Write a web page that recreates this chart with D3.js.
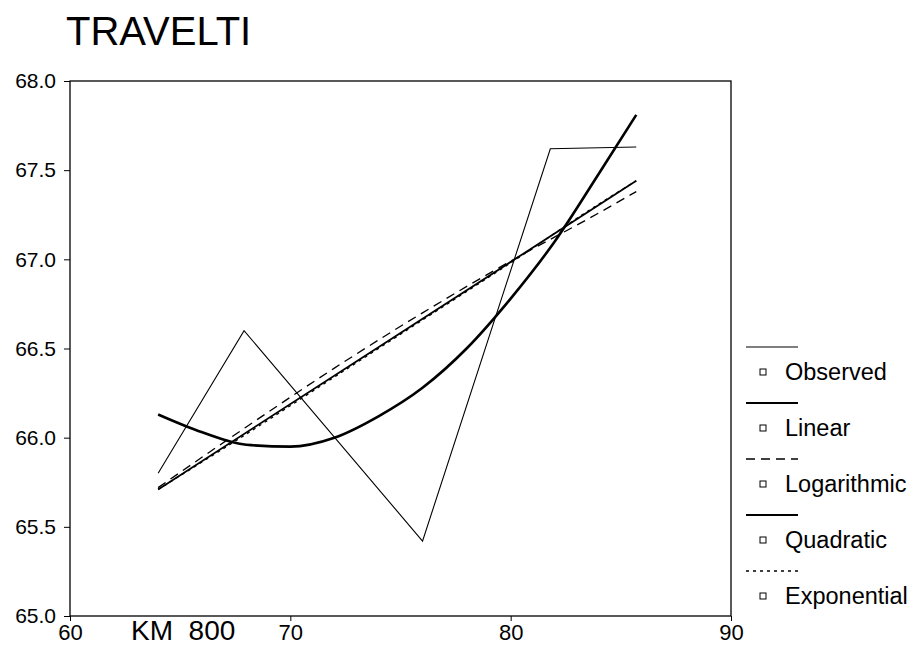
<!DOCTYPE html>
<html>
<head>
<meta charset="utf-8">
<script src="https://cdn.jsdelivr.net/npm/d3@7/dist/d3.min.js"></script>
<style>
  html, body { margin: 0; padding: 0; background: #fff; }
  svg { display: block; font-family: "Liberation Sans", Arial, sans-serif; }
</style>
</head>
<body>
<svg id="chart" width="913" height="646"></svg>
<script>
// ---- data ----
const title = "TRAVELTI";
const xLabel = "KM  800";
const xTicks = [60, 70, 80, 90];
const yTicks = [65.0, 65.5, 66.0, 66.5, 67.0, 67.5, 68.0];

const observedX = [64, 67.9, 76, 81.8, 85.7];
const observedY = [65.80, 66.60, 65.42, 67.62, 67.63];

const linearX = [64, 85.7];
const linearY = [65.71, 67.44];

const logX = [64, 68, 72, 76, 80, 84, 85.7];
const logY = [65.72, 66.06, 66.39, 66.70, 66.99, 67.26, 67.38];

const quadX = [64, 66, 68, 70, 72, 74, 76, 78, 80, 82, 84, 85.7];
const quadY = [66.13, 66.03, 65.96, 65.95, 66.00, 66.12, 66.28, 66.50, 66.78, 67.10, 67.48, 67.81];

const expX = [64, 68, 72, 76, 80, 84, 85.7];
const expY = [65.71, 66.02, 66.34, 66.66, 66.98, 67.31, 67.44];

const legendNames = ["Observed", "Linear", "Logarithmic", "Quadratic", "Exponential"];

// ---- drawing ----
const svg = d3.select("#chart");
const pLeft = 70, pRight = 731, pTop = 81, pBottom = 616;
const x = d3.scaleLinear().domain([60, 90]).range([pLeft, pRight]);
const y = d3.scaleLinear().domain([65, 68]).range([pBottom, pTop]);

const styles = {
  Observed:    { w: 1.1, dash: null },
  Linear:      { w: 1.8, dash: null },
  Logarithmic: { w: 1.3, dash: "9,6" },
  Quadratic:   { w: 2.6, dash: null },
  Exponential: { w: 1.3, dash: "3,4" }
};

// title
svg.append("text").attr("x", 66).attr("y", 45)
  .attr("font-size", 40).attr("fill", "#000").text(title);

// frame
svg.append("rect").attr("x", pLeft).attr("y", pTop)
  .attr("width", pRight - pLeft).attr("height", pBottom - pTop)
  .attr("fill", "none").attr("stroke", "#000").attr("stroke-width", 1.3);

// axes
const yAxis = d3.axisLeft(y).tickValues(yTicks).tickFormat(d3.format(".1f")).tickSize(6).tickPadding(8);
const gy = svg.append("g").attr("transform", `translate(${pLeft},0)`).call(yAxis);
gy.select(".domain").remove();
gy.selectAll("text").attr("font-size", 21).attr("fill", "#000").attr("font-family", "Liberation Sans, Arial, sans-serif");
gy.selectAll("line").attr("stroke", "#000");

const xAxis = d3.axisBottom(x).tickValues(xTicks).tickFormat(d3.format("d")).tickSize(5).tickPadding(3);
const gx = svg.append("g").attr("transform", `translate(0,${pBottom})`).call(xAxis);
gx.select(".domain").remove();
gx.selectAll("text").attr("font-size", 22).attr("fill", "#000").attr("font-family", "Liberation Sans, Arial, sans-serif");
gx.selectAll("line").attr("stroke", "#000");

// x label
svg.append("text").attr("x", 131).attr("y", 640)
  .attr("font-size", 28).attr("fill", "#000").attr("xml:space", "preserve").text(xLabel);

// series
const series = [
  { name: "Observed", xs: observedX, ys: observedY, curve: d3.curveLinear },
  { name: "Linear", xs: linearX, ys: linearY, curve: d3.curveLinear },
  { name: "Logarithmic", xs: logX, ys: logY, curve: d3.curveMonotoneX },
  { name: "Quadratic", xs: quadX, ys: quadY, curve: d3.curveMonotoneX },
  { name: "Exponential", xs: expX, ys: expY, curve: d3.curveMonotoneX }
];

series.forEach(s => {
  const pts = s.xs.map((v, i) => [v, s.ys[i]]);
  const line = d3.line().x(d => x(d[0])).y(d => y(d[1])).curve(s.curve);
  const st = styles[s.name];
  svg.append("path").datum(pts).attr("d", line)
    .attr("fill", "none").attr("stroke", "#000")
    .attr("stroke-width", st.w)
    .attr("stroke-dasharray", st.dash);
});

// legend
const lg = svg.append("g");
legendNames.forEach((n, i) => {
  const base = 347 + i * 56;
  const st = styles[n];
  lg.append("line").attr("x1", 746).attr("x2", 798).attr("y1", base).attr("y2", base)
    .attr("stroke", "#000").attr("stroke-width", Math.min(st.w, 2)).attr("stroke-dasharray", st.dash);
  lg.append("rect").attr("x", 760).attr("y", base + 22).attr("width", 6).attr("height", 6)
    .attr("fill", "none").attr("stroke", "#000").attr("stroke-width", 1);
  lg.append("text").attr("x", 785).attr("y", base + 33)
    .attr("font-size", 23.5).attr("fill", "#000").text(n);
});
</script>
</body>
</html>
